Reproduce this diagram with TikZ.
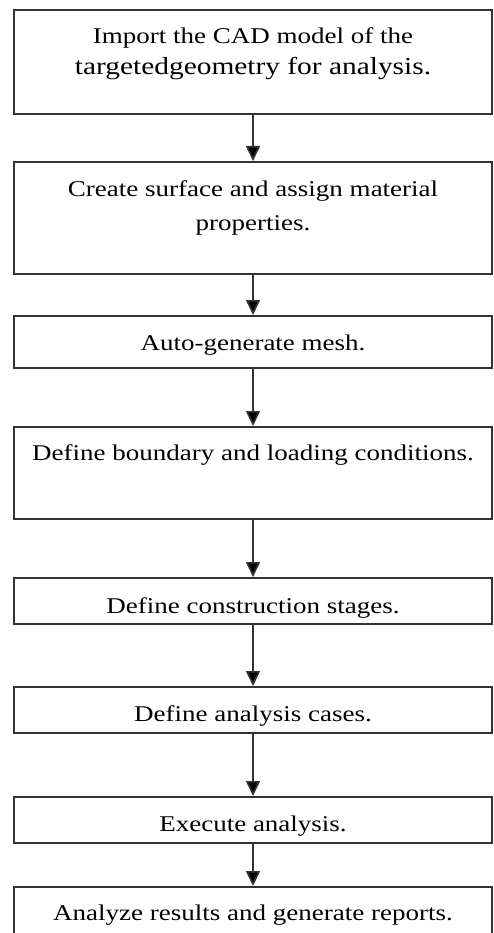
\documentclass[tikz,border=0pt]{standalone}
\usepackage{fontspec}
\setmainfont[FakeStretch=1.2]{Liberation Serif}
\usetikzlibrary{arrows.meta}

\tikzset{
    stepbox/.style={draw=black!80, line width=1.8pt, anchor=north, minimum width=478pt, inner sep=0pt},
    steptext/.style={anchor=base, align=center, font=\fontsize{22.5}{31}\selectfont, inner sep=0pt},
    flow/.style={draw=black!80, line width=1.6pt, -{Triangle[length=15pt, width=14pt, fill=black]}}
}

\begin{document}
\begin{tikzpicture}[x=1pt, y=-1pt]
    \clip (0,0) rectangle (493,933);
    \useasboundingbox (0,0) rectangle (493,933);

    % Boxes
    \node[stepbox, minimum height=104pt] (import) at (253, 9) {};
    \node[stepbox, minimum height=112pt] (surface) at (253, 161) {};
    \node[stepbox, minimum height=52pt] (mesh) at (253, 315) {};
    \node[stepbox, minimum height=92pt] (boundary) at (253, 426) {};
    \node[stepbox, minimum height=46pt] (stages) at (253, 577) {};
    \node[stepbox, minimum height=46pt] (cases) at (253, 686) {};
    \node[stepbox, minimum height=46pt] (execute) at (253, 796) {};
    \node[stepbox, minimum height=70pt] (results) at (253, 886) {};

    % Texts (multi-line ones sit on their last line)
    \node[steptext] (import-t) at (253, 75) {Import the CAD model of the\\{\fontsize{24.5}{31}\selectfont targetedgeometry for analysis.}};
    \node[steptext, font=\fontsize{22.5}{33}\selectfont] (surface-t) at (253, 230) {Create surface and assign material\\properties.};
    \node[steptext] (mesh-t) at (253, 350) {Auto-generate mesh.};
    \node[steptext] (boundary-t) at (253, 460) {Define boundary and loading conditions.};
    \node[steptext] (stages-t) at (253, 613) {Define construction stages.};
    \node[steptext] (cases-t) at (253, 721) {Define analysis cases.};
    \node[steptext] (execute-t) at (253, 831) {Execute analysis.};
    \node[steptext] (results-t) at (253, 920) {Analyze results and generate reports.};

    % Arrows
    \draw[flow] (import) -- (surface);
    \draw[flow] (surface) -- (mesh);
    \draw[flow] (mesh) -- (boundary);
    \draw[flow] (boundary) -- (stages);
    \draw[flow] (stages) -- (cases);
    \draw[flow] (cases) -- (execute);
    \draw[flow] (execute) -- (results);
\end{tikzpicture}
\end{document}
